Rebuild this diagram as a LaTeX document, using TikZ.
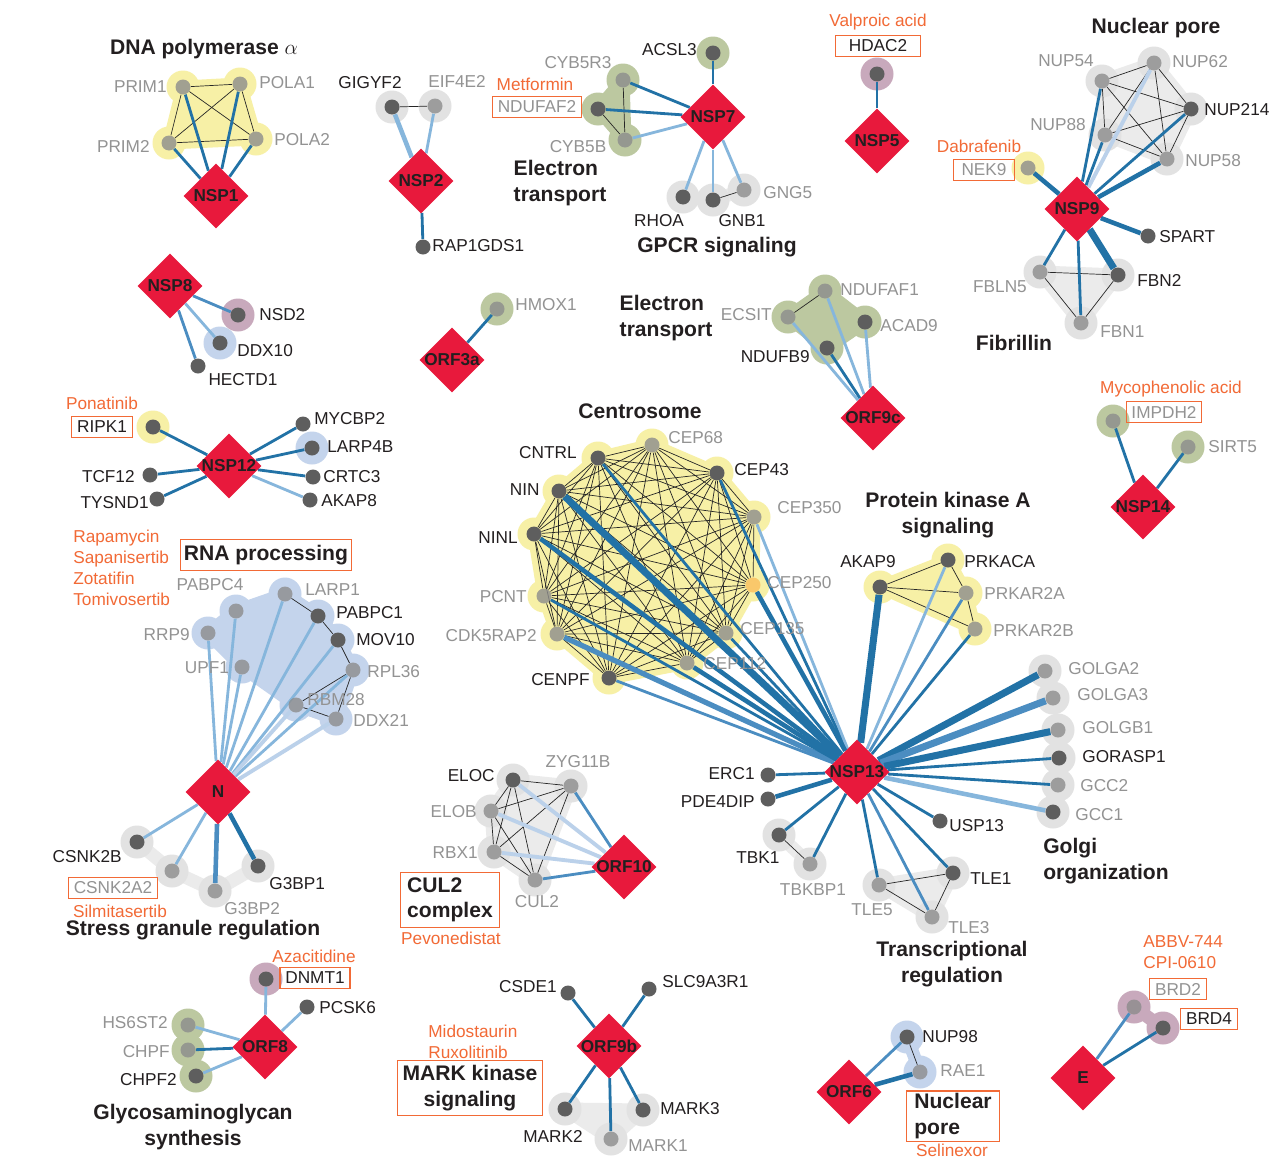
\documentclass[tikz,border=0pt]{standalone}
\usepackage{fontspec}
\setmainfont{Liberation Sans}
\usepackage{tikz}
\usetikzlibrary{shapes.geometric}
\newcommand{\dotsize}{3mm}
\newcommand{\halorad}{3.3mm}
\newcommand{\labfont}{\fontsize{9.8}{11.9}\selectfont}
\newcommand{\titfont}{\fontsize{12}{14.4}\selectfont\bfseries}
\newcommand{\baitlab}[1]{\makebox[0pt]{#1}}
\definecolor{vred}{HTML}{E8193C}
\definecolor{dkdot}{HTML}{5E5E5E}
\definecolor{ltdot}{HTML}{8C8C8C}
\definecolor{ordot}{HTML}{F9C86B}
\definecolor{yhalo}{HTML}{F7F0A6}
\definecolor{ghalo}{HTML}{BCC8A0}
\definecolor{phalo}{HTML}{C8A9BC}
\definecolor{bhalo}{HTML}{C4D4EC}
\definecolor{khalo}{HTML}{E2E2E2}
\definecolor{khull}{HTML}{EBEBEB}
\definecolor{txtblack}{HTML}{231F20}
\definecolor{txtgray}{HTML}{939393}
\definecolor{dorange}{HTML}{F26A36}
\definecolor{edark}{HTML}{2272A6}
\definecolor{emid}{HTML}{4B8DC1}
\definecolor{elite}{HTML}{86B6DC}
\definecolor{epale}{HTML}{BBD1EA}
\pgfdeclarelayer{bg}
\pgfdeclarelayer{hulls}
\pgfdeclarelayer{edges}
\pgfsetlayers{bg,hulls,edges,main}

\begin{document}
\begin{tikzpicture}[x=0.2mm,y=-0.2mm,
  bait/.style={diamond,fill=vred,minimum width=13mm,minimum height=13mm,inner sep=0pt,font=\labfont\bfseries,text=txtblack},
  pd/.style={circle,fill=dkdot,minimum size=\dotsize,inner sep=0pt},
  pl/.style={pd,fill=ltdot,fill opacity=0.8},
  po/.style={pd,fill=ordot},
  lab/.style={font=\labfont,text=txtblack,inner sep=0pt},
  labg/.style={lab,text=txtgray},
  drug/.style={lab,text=dorange},
  dbox/.style={draw=dorange,line width=0.7pt,inner xsep=3pt,inner ysep=2.7pt},
  title/.style={font=\titfont,text=txtblack,inner sep=0pt},
  ed/.style={draw=edark,line width=1.6pt},
  edw/.style={draw=edark,line width=2.6pt},
  edx/.style={draw=edark,line width=4pt},
  em/.style={draw=emid,line width=1.6pt},
  emw/.style={draw=emid,line width=3pt},
  el/.style={draw=elite,line width=1.6pt},
  elw/.style={draw=elite,line width=2.6pt},
  ep/.style={draw=epale,line width=2.2pt},
  intra/.style={draw=black!85,line width=0.4pt},
  hull/.style={line width=2.6mm,line join=round,line cap=round},
  hullY/.style={hull,fill=yhalo,draw=yhalo},
  hullG/.style={hull,fill=ghalo,draw=ghalo},
  hullB/.style={hull,fill=bhalo,draw=bhalo},
  hullK/.style={hull,fill=khull,draw=khull},
  chainK/.style={hull,draw=khull},
  chainB/.style={hull,draw=bhalo},
  chainP/.style={hull,draw=phalo}]
\useasboundingbox (0,0) rectangle (1272,1159);

% DNA polymerase alpha
\node[title] (tPola) at (204,49) {DNA polymerase $\alpha$};
\node[bait] (NSP1) at (216,196) {\baitlab{NSP1}};
\node[pl] (PRIM1) at (183,87) {};
\node[pl] (POLA1) at (240,84) {};
\node[pl] (PRIM2) at (169,143) {};
\node[pl] (POLA2) at (256,139) {};
\node[labg,anchor=east] (lPRIM1) at (167,87) {PRIM1};
\node[labg,anchor=west] (lPOLA1) at (259,83) {POLA1};
\node[labg,anchor=east] (lPRIM2) at (150,146) {PRIM2};
\node[labg,anchor=west] (lPOLA2) at (274,140) {POLA2};

% NSP2
\node[bait] (NSP2) at (421,181) {\baitlab{NSP2}};
\node[pd] (GIGYF2) at (392,107) {};
\node[pl] (EIF4E2) at (435,106) {};
\node[pd] (RAP1GDS1) at (423,247) {};
\node[lab] (lGIGYF2) at (370,83) {GIGYF2};
\node[labg] (lEIF4E2) at (457,81) {EIF4E2};
\node[lab,anchor=west] (lRAP1GDS1) at (432,246) {RAP1GDS1};

% NSP7
\node[bait] (NSP7) at (713,117) {\baitlab{NSP7}};
\node[pd] (ACSL3) at (713,53) {};
\node[pl] (CYB5R3) at (623,80) {};
\node[pd] (NDUFAF2) at (598,109) {};
\node[pl] (CYB5B) at (625,140) {};
\node[pd] (RHOA) at (683,197) {};
\node[pd] (GNB1) at (713,200) {};
\node[pl] (GNG5) at (744,190) {};
\node[lab,anchor=east] (lACSL3) at (697,50) {ACSL3};
\node[labg] (lCYB5R3) at (578,63) {CYB5R3};
\node[drug] (dMetformin) at (535,84) {Metformin};
\node[labg,dbox] (lNDUFAF2) at (537,107) {NDUFAF2};
\node[labg] (lCYB5B) at (578,147) {CYB5B};
\node[title,align=left] (tElec) at (560,183) {Electron\\transport};
\node[lab] (lRHOA) at (659,221) {RHOA};
\node[lab] (lGNB1) at (742,221) {GNB1};
\node[labg,anchor=west] (lGNG5) at (763,193) {GNG5};
\node[title] (tGPCR) at (717,247) {GPCR signaling};

% NSP5
\node[bait] (NSP5) at (877,141) {\baitlab{NSP5}};
\node[pd] (HDAC2) at (877,74) {};
\node[drug] (dValproic) at (878,22) {Valproic acid};
\node[lab,dbox,inner xsep=7.5pt] (lHDAC2) at (878,46) {HDAC2};

% NSP9
\node[title] (tNucPore) at (1156,28) {Nuclear pore};
\node[bait] (NSP9) at (1077,209) {\baitlab{NSP9}};
\node[pl] (NUP54) at (1102,81) {};
\node[pl] (NUP62) at (1154,63) {};
\node[pd] (NUP214) at (1191,109) {};
\node[pl] (NUP88) at (1105,135) {};
\node[pl] (NUP58) at (1167,159) {};
\node[pl] (NEK9) at (1028,168) {};
\node[pd] (SPART) at (1148,236) {};
\node[pl] (FBLN5) at (1040,272) {};
\node[pd] (FBN2) at (1118,275) {};
\node[pl] (FBN1) at (1081,323) {};
\node[labg] (lNUP54) at (1066,61) {NUP54};
\node[labg,anchor=west] (lNUP62) at (1172,62) {NUP62};
\node[lab,anchor=west] (lNUP214) at (1204,110) {NUP214};
\node[labg] (lNUP88) at (1058,125) {NUP88};
\node[labg,anchor=west] (lNUP58) at (1185,161) {NUP58};
\node[drug] (dDabrafenib) at (979,146) {Dabrafenib};
\node[labg,dbox,inner xsep=4.5pt] (lNEK9) at (984,170) {NEK9};
\node[lab,anchor=west] (lSPART) at (1159,237) {SPART};
\node[labg] (lFBLN5) at (1000,287) {FBLN5};
\node[lab,anchor=west] (lFBN2) at (1137,280) {FBN2};
\node[labg,anchor=west] (lFBN1) at (1100,332) {FBN1};
\node[title] (tFib) at (1014,343) {Fibrillin};

% NSP8
\node[bait] (NSP8) at (170,286) {\baitlab{NSP8}};
\node[pd] (NSD2) at (238,315) {};
\node[pd] (DDX10) at (220,343) {};
\node[pd] (HECTD1) at (198,366) {};
\node[lab,anchor=west] (lNSD2) at (259,315) {NSD2};
\node[lab,anchor=west] (lDDX10) at (237,351) {DDX10};
\node[lab] (lHECTD1) at (243,380) {HECTD1};

% NSP12
\node[bait] (NSP12) at (229,466) {\baitlab{NSP12}};
\node[pd] (RIPK1) at (153,427) {};
\node[pd] (MYCBP2) at (303,424) {};
\node[pd] (LARP4B) at (312,448) {};
\node[pd] (CRTC3) at (313,477) {};
\node[pd] (AKAP8) at (310,500) {};
\node[pd] (TCF12) at (150,475) {};
\node[pd] (TYSND1) at (157,499) {};
\node[drug] (dPonatinib) at (102,403) {Ponatinib};
\node[lab,dbox] (lRIPK1) at (102,427) {RIPK1};
\node[lab,anchor=west] (lMYCBP2) at (314,419) {MYCBP2};
\node[lab,anchor=west] (lLARP4B) at (327,447) {LARP4B};
\node[lab,anchor=west] (lCRTC3) at (323,477) {CRTC3};
\node[lab,anchor=west] (lAKAP8) at (321,501) {AKAP8};
\node[lab,anchor=east] (lTCF12) at (135,477) {TCF12};
\node[lab,anchor=east] (lTYSND1) at (149,503) {TYSND1};

% ORF3a
\node[bait] (ORF3a) at (452,360) {\baitlab{ORF3a}};
\node[pl] (HMOX1) at (497,309) {};
\node[labg,anchor=west] (lHMOX1) at (515,305) {HMOX1};

% ORF9c
\node[title,align=left] (tElecB) at (666,318) {Electron\\transport};
\node[bait] (ORF9c) at (873,418) {\baitlab{ORF9c}};
\node[pl] (ECSIT) at (788,317) {};
\node[pl] (NDUFAF1) at (825,291) {};
\node[pd] (ACAD9) at (865,322) {};
\node[pd] (NDUFB9) at (827,348) {};
\node[labg,anchor=east] (lECSIT) at (772,315) {ECSIT};
\node[labg,anchor=west] (lNDUFAF1) at (840,290) {NDUFAF1};
\node[labg,anchor=west] (lACAD9) at (880,326) {ACAD9};
\node[lab,anchor=east] (lNDUFB9) at (810,357) {NDUFB9};

% NSP14
\node[bait] (NSP14) at (1143,507) {\baitlab{NSP14}};
\node[pl] (IMPDH2) at (1113,421) {};
\node[pl] (SIRT5) at (1188,447) {};
\node[drug] (dMyco) at (1171,389) {Mycophenolic acid};
\node[labg,dbox] (lIMPDH2) at (1164,412) {IMPDH2};
\node[labg,anchor=west] (lSIRT5) at (1208,447) {SIRT5};

% Centrosome
\node[title] (tCentro) at (640,411) {Centrosome};
\node[pd] (CNTRL) at (598,458) {};
\node[pl] (CEP68) at (652,445) {};
\node[pd] (CEP43) at (717,473) {};
\node[pl] (CEP350) at (754,517) {};
\node[pd] (NIN) at (559,491) {};
\node[pd] (NINL) at (534,534) {};
\node[po] (CEP250) at (753,585) {};
\node[pl] (PCNT) at (544,596) {};
\node[pl] (CDK5RAP2) at (557,634) {};
\node[pl] (CEP135) at (726,633) {};
\node[pl] (CEP112) at (687,663) {};
\node[pd] (CENPF) at (609,678) {};
\node[lab,anchor=east] (lCNTRL) at (577,453) {CNTRL};
\node[labg,anchor=west] (lCEP68) at (668,438) {CEP68};
\node[lab,anchor=west] (lCEP43) at (734,470) {CEP43};
\node[labg,anchor=west] (lCEP350) at (777,508) {CEP350};
\node[lab,anchor=east] (lNIN) at (540,490) {NIN};
\node[lab,anchor=east] (lNINL) at (518,538) {NINL};
\node[labg,anchor=west] (lCEP250) at (767,583) {CEP250};
\node[labg,anchor=east] (lPCNT) at (527,597) {PCNT};
\node[labg,anchor=east] (lCDK5RAP2) at (537,636) {CDK5RAP2};
\node[labg,anchor=west] (lCEP135) at (740,629) {CEP135};
\node[labg,anchor=west] (lCEP112) at (703,664) {CEP112};
\node[lab,anchor=east] (lCENPF) at (590,680) {CENPF};

% NSP13
\node[bait] (NSP13) at (857,772) {\baitlab{NSP13}};
\node[title,align=center] (tPKA) at (948,515) {Protein kinase A\\signaling};
\node[pd] (AKAP9) at (880,587) {};
\node[pd] (PRKACA) at (948,560) {};
\node[pl] (PRKAR2A) at (966,593) {};
\node[pl] (PRKAR2B) at (975,629) {};
\node[lab] (lAKAP9) at (868,562) {AKAP9};
\node[lab,anchor=west] (lPRKACA) at (964,562) {PRKACA};
\node[labg,anchor=west] (lPRKAR2A) at (984,593) {PRKAR2A};
\node[labg,anchor=west] (lPRKAR2B) at (993,630) {PRKAR2B};
\node[pl] (GOLGA2) at (1045,671) {};
\node[pl] (GOLGA3) at (1053,698) {};
\node[pl] (GOLGB1) at (1058,730) {};
\node[pd] (GORASP1) at (1059,758) {};
\node[pl] (GCC2) at (1058,785) {};
\node[pd] (GCC1) at (1053,812) {};
\node[labg,anchor=west] (lGOLGA2) at (1068,669) {GOLGA2};
\node[labg,anchor=west] (lGOLGA3) at (1077,695) {GOLGA3};
\node[labg,anchor=west] (lGOLGB1) at (1082,728) {GOLGB1};
\node[lab,anchor=west] (lGORASP1) at (1082,757) {GORASP1};
\node[labg,anchor=west] (lGCC2) at (1080,786) {GCC2};
\node[labg,anchor=west] (lGCC1) at (1075,815) {GCC1};
\node[title,align=left] (tGolgi) at (1106,861) {Golgi\\organization};
\node[pd] (USP13) at (940,821) {};
\node[pd] (TLE1) at (953,873) {};
\node[pl] (TLE5) at (879,885) {};
\node[pl] (TLE3) at (932,917) {};
\node[lab,anchor=west] (lUSP13) at (949,826) {USP13};
\node[lab,anchor=west] (lTLE1) at (970,879) {TLE1};
\node[labg] (lTLE5) at (872,910) {TLE5};
\node[labg,anchor=west] (lTLE3) at (948,928) {TLE3};
\node[title,align=center] (tTrans) at (952,964) {Transcriptional\\regulation};
\node[pd] (ERC1) at (768,775) {};
\node[pd] (PDE4DIP) at (768,799) {};
\node[pd] (TBK1) at (779,835) {};
\node[pl] (TBKBP1) at (810,864) {};
\node[lab,anchor=east] (lERC1) at (755,774) {ERC1};
\node[lab,anchor=east] (lPDE4DIP) at (755,802) {PDE4DIP};
\node[lab] (lTBK1) at (758,858) {TBK1};
\node[labg] (lTBKBP1) at (813,890) {TBKBP1};

% N
\node[drug,align=left,anchor=west] (dRNA) at (73,568) {Rapamycin\\Sapanisertib\\Zotatifin\\Tomivosertib};
\node[title,dbox,inner xsep=2pt,inner ysep=3pt] (tRNA) at (266,555) {RNA processing};
\node[bait] (N) at (218,792) {\baitlab{N}};
\node[pl] (PABPC4) at (236,611) {};
\node[pl] (LARP1) at (285,594) {};
\node[pd] (PABPC1) at (318,616) {};
\node[pd] (MOV10) at (338,640) {};
\node[pl] (RPL36) at (353,670) {};
\node[pl] (RRP9) at (208,633) {};
\node[pl] (UPF1) at (242,667) {};
\node[pl] (RBM28) at (296,705) {};
\node[pl] (DDX21) at (336,719) {};
\node[labg] (lPABPC4) at (210,585) {PABPC4};
\node[labg,anchor=west] (lLARP1) at (305,590) {LARP1};
\node[lab,anchor=west] (lPABPC1) at (336,613) {PABPC1};
\node[lab,anchor=west] (lMOV10) at (356,640) {MOV10};
\node[labg,anchor=west] (lRPL36) at (367,672) {RPL36};
\node[labg,anchor=east] (lRRP9) at (190,635) {RRP9};
\node[labg] (lUPF1) at (207,668) {UPF1};
\node[labg,anchor=west] (lRBM28) at (307,700) {RBM28};
\node[labg,anchor=west] (lDDX21) at (353,720) {DDX21};
\node[pd] (CSNK2B) at (137,842) {};
\node[pl] (CSNK2A2) at (172,871) {};
\node[pl] (G3BP2) at (215,891) {};
\node[pd] (G3BP1) at (258,866) {};
\node[lab,anchor=east] (lCSNK2B) at (122,857) {CSNK2B};
\node[labg,dbox] (lCSNK2A2) at (113,888) {CSNK2A2};
\node[drug] (dSilmi) at (120,911) {Silmitasertib};
\node[labg,anchor=west] (lG3BP2) at (224,909) {G3BP2};
\node[lab,anchor=west] (lG3BP1) at (269,884) {G3BP1};
\node[title] (tStress) at (193,930) {Stress granule regulation};

% ORF10
\node[bait] (ORF10) at (624,867) {\baitlab{ORF10}};
\node[pd] (ELOC) at (513,780) {};
\node[pl] (ZYG11B) at (571,786) {};
\node[pl] (ELOB) at (491,811) {};
\node[pl] (RBX1) at (494,852) {};
\node[pl] (CUL2) at (535,880) {};
\node[lab,anchor=east] (lELOC) at (495,776) {ELOC};
\node[labg] (lZYG11B) at (578,762) {ZYG11B};
\node[labg,anchor=east] (lELOB) at (477,812) {ELOB};
\node[labg,anchor=east] (lRBX1) at (478,853) {RBX1};
\node[labg] (lCUL2) at (537,902) {CUL2};
\node[title,dbox,align=left,inner xsep=4pt,inner ysep=3pt] (tCUL2) at (450,900) {CUL2\\complex};
\node[drug] (dPevo) at (451,938) {Pevonedistat};

% ORF8
\node[bait] (ORF8) at (265,1047) {\baitlab{ORF8}};
\node[pd] (DNMT1) at (266,979) {};
\node[pd] (PCSK6) at (307,1007) {};
\node[pl] (HS6ST2) at (188,1025) {};
\node[pl] (CHPF) at (188,1050) {};
\node[pd] (CHPF2) at (196,1076) {};
\node[drug] (dAza) at (314,956) {Azacitidine};
\node[lab,dbox] (lDNMT1) at (315,978) {DNMT1};
\node[lab,anchor=west] (lPCSK6) at (319,1008) {PCSK6};
\node[labg,anchor=east] (lHS6ST2) at (168,1023) {HS6ST2};
\node[labg,anchor=east] (lCHPF) at (170,1052) {CHPF};
\node[lab,anchor=east] (lCHPF2) at (177,1080) {CHPF2};
\node[title,align=center] (tGlyco) at (193,1127) {Glycosaminoglycan\\synthesis};

% ORF9b
\node[bait] (ORF9b) at (609,1046) {\baitlab{ORF9b}};
\node[pd] (CSDE1) at (568,993) {};
\node[pd] (SLC9A3R1) at (649,989) {};
\node[pd] (MARK2) at (565,1109) {};
\node[pd] (MARK3) at (643,1110) {};
\node[pl] (MARK1) at (611,1139) {};
\node[lab,anchor=east] (lCSDE1) at (557,987) {CSDE1};
\node[lab,anchor=west] (lSLC9A3R1) at (662,982) {SLC9A3R1};
\node[lab] (lMARK2) at (553,1136) {MARK2};
\node[lab,anchor=west] (lMARK3) at (660,1109) {MARK3};
\node[labg,anchor=west] (lMARK1) at (628,1146) {MARK1};
\node[drug,align=left,anchor=west] (dMARK) at (428,1042) {Midostaurin\\Ruxolitinib};
\node[title,dbox,align=center,inner xsep=3pt,inner ysep=3pt] (tMARK) at (470,1088) {MARK kinase\\signaling};

% ORF6
\node[bait] (ORF6) at (849,1092) {\baitlab{ORF6}};
\node[pd] (NUP98) at (907,1037) {};
\node[pl] (RAE1) at (920,1072) {};
\node[lab,anchor=west] (lNUP98) at (922,1037) {NUP98};
\node[labg,anchor=west] (lRAE1) at (940,1071) {RAE1};
\node[title,dbox,align=left,inner xsep=4.5pt,inner ysep=1.5pt] (tNucPoreB) at (953,1116) {Nuclear\\pore};
\node[drug] (dSeli) at (952,1150) {Selinexor};

% E
\node[bait] (E) at (1083,1078) {\baitlab{E}};
\node[pl] (BRD2) at (1134,1007) {};
\node[pd] (BRD4) at (1163,1028) {};
\node[drug,align=left,anchor=west] (dBRD) at (1143,952) {ABBV-744\\CPI-0610};
\node[labg,dbox] (lBRD2) at (1178,989) {BRD2};
\node[lab,dbox] (lBRD4) at (1209,1019) {BRD4};

\begin{pgfonlayer}{bg}
\fill[white] (0,0) rectangle (1272,1159);
\end{pgfonlayer}

\begin{pgfonlayer}{hulls}
% complex backgrounds
\filldraw[hullY] (PRIM1.center) -- (POLA1.center) -- (POLA2.center) -- (PRIM2.center) -- cycle;
\filldraw[hullG] (CYB5R3.center) -- (CYB5B.center) -- (NDUFAF2.center) -- cycle;
\draw[chainK] (RHOA.center) -- (GNB1.center) -- (GNG5.center);
\filldraw[hullK] (NUP54.center) -- (NUP62.center) -- (NUP214.center) -- (NUP58.center) -- (NUP88.center) -- cycle;
\filldraw[hullK] (FBLN5.center) -- (FBN2.center) -- (FBN1.center) -- cycle;
\filldraw[hullG] (ECSIT.center) -- (NDUFAF1.center) -- (ACAD9.center) -- (NDUFB9.center) -- cycle;
\filldraw[hullY] (CEP68.center) -- (CEP43.center) -- (CEP350.center) -- (CEP250.center) -- (CEP135.center) -- (CEP112.center) -- (CENPF.center) -- (CDK5RAP2.center) -- (PCNT.center) -- (NINL.center) -- (NIN.center) -- (CNTRL.center) -- cycle;
\filldraw[hullY] (AKAP9.center) -- (PRKACA.center) -- (PRKAR2A.center) -- (PRKAR2B.center) -- cycle;
\filldraw[hullK] (TLE5.center) -- (TLE1.center) -- (TLE3.center) -- cycle;
\draw[chainK] (TBK1.center) -- (TBKBP1.center);
\filldraw[hullB] (RRP9.center) -- (PABPC4.center) -- (LARP1.center) -- (PABPC1.center) -- (MOV10.center) -- (RPL36.center) -- (DDX21.center) -- (RBM28.center) -- (UPF1.center) -- cycle;
\draw[chainK] (CSNK2B.center) -- (CSNK2A2.center) -- (G3BP2.center) -- (G3BP1.center);
\filldraw[hullK] (ELOC.center) -- (ZYG11B.center) -- (CUL2.center) -- (RBX1.center) -- (ELOB.center) -- cycle;
\filldraw[hullK] (MARK2.center) -- (MARK3.center) -- (MARK1.center) -- cycle;
\draw[chainB] (NUP98.center) -- (RAE1.center);
\draw[chainP] (BRD2.center) -- (BRD4.center);
% halos
\foreach \n in {PRIM1,POLA1,PRIM2,POLA2,NEK9,RIPK1,CNTRL,CEP68,CEP43,CEP350,NIN,NINL,CEP250,PCNT,CDK5RAP2,CEP135,CEP112,CENPF,AKAP9,PRKACA,PRKAR2A,PRKAR2B}
  \fill[yhalo] (\n) circle[radius=\halorad];
\foreach \n in {ACSL3,CYB5R3,NDUFAF2,CYB5B,HMOX1,ECSIT,NDUFAF1,ACAD9,NDUFB9,IMPDH2,SIRT5,HS6ST2,CHPF,CHPF2}
  \fill[ghalo] (\n) circle[radius=\halorad];
\foreach \n in {HDAC2,NSD2,DNMT1,BRD2,BRD4}
  \fill[phalo] (\n) circle[radius=\halorad];
\foreach \n in {DDX10,LARP4B,PABPC4,LARP1,PABPC1,MOV10,RPL36,RRP9,UPF1,RBM28,DDX21,NUP98,RAE1}
  \fill[bhalo] (\n) circle[radius=\halorad];
\foreach \n in {GIGYF2,EIF4E2,RHOA,GNB1,GNG5,NUP54,NUP62,NUP214,NUP88,NUP58,FBLN5,FBN2,FBN1,GOLGA2,GOLGA3,GOLGB1,GORASP1,GCC2,GCC1,TBK1,TBKBP1,TLE1,TLE5,TLE3,CSNK2B,CSNK2A2,G3BP2,G3BP1,ELOC,ZYG11B,ELOB,RBX1,CUL2,MARK2,MARK3,MARK1}
  \fill[khalo] (\n) circle[radius=\halorad];
\end{pgfonlayer}

\begin{pgfonlayer}{edges}
% complex edges
\draw[intra] (PRIM1) -- (POLA1);
\draw[intra] (PRIM1) -- (PRIM2);
\draw[intra] (PRIM1) -- (POLA2);
\draw[intra] (POLA1) -- (PRIM2);
\draw[intra] (POLA1) -- (POLA2);
\draw[intra] (PRIM2) -- (POLA2);
\draw[intra] (GIGYF2) -- (EIF4E2);
\draw[intra] (CYB5R3) -- (CYB5B);
\draw[intra] (NDUFAF2) -- (CYB5B);
\draw[intra] (GNB1) -- (GNG5);
\draw[intra] (NUP54) -- (NUP62);
\draw[intra] (NUP54) -- (NUP214);
\draw[intra] (NUP54) -- (NUP88);
\draw[intra] (NUP54) -- (NUP58);
\draw[intra] (NUP62) -- (NUP214);
\draw[intra] (NUP62) -- (NUP88);
\draw[intra] (NUP62) -- (NUP58);
\draw[intra] (NUP88) -- (NUP214);
\draw[intra] (NUP88) -- (NUP58);
\draw[intra] (NUP214) -- (NUP58);
\draw[intra] (FBLN5) -- (FBN2);
\draw[intra] (FBLN5) -- (FBN1);
\draw[intra] (FBN2) -- (FBN1);
\draw[intra] (ECSIT) -- (NDUFAF1);
\def\centlist{CNTRL,CEP68,CEP43,CEP350,CEP250,CEP135,CEP112,CENPF,CDK5RAP2,PCNT,NINL,NIN}
\foreach \a [count=\i] in \centlist
  \foreach \b [count=\j] in \centlist
    {\ifnum\i<\j \draw[intra] (\a) -- (\b); \fi}
\draw[intra] (AKAP9) -- (PRKACA);
\draw[intra] (AKAP9) -- (PRKAR2A);
\draw[intra] (AKAP9) -- (PRKAR2B);
\draw[intra] (PRKACA) -- (PRKAR2A);
\draw[intra] (PRKAR2A) -- (PRKAR2B);
\draw[intra] (TLE5) -- (TLE1);
\draw[intra] (TLE5) -- (TLE3);
\draw[intra] (TLE1) -- (TLE3);
\draw[intra] (TBK1) -- (TBKBP1);
\draw[intra] (LARP1) -- (PABPC1);
\draw[intra] (PABPC1) -- (MOV10);
\draw[intra] (MOV10) -- (RPL36);
\draw[intra] (RPL36) -- (RBM28);
\draw[intra] (RPL36) -- (DDX21);
\draw[intra] (RBM28) -- (DDX21);
\draw[intra] (ELOC) -- (ZYG11B);
\draw[intra] (ELOC) -- (ELOB);
\draw[intra] (ELOC) -- (RBX1);
\draw[intra] (ELOC) -- (CUL2);
\draw[intra] (ELOB) -- (ZYG11B);
\draw[intra] (ELOB) -- (RBX1);
\draw[intra] (ELOB) -- (CUL2);
\draw[intra] (RBX1) -- (ZYG11B);
\draw[intra] (RBX1) -- (CUL2);
\draw[intra] (ZYG11B) -- (CUL2);
\draw[intra] (NUP98) -- (RAE1);
% virus-host edges
\draw[ed] (NSP1) -- (PRIM1);
\draw[ed] (NSP1) -- (POLA1);
\draw[ed] (NSP1) -- (PRIM2);
\draw[ed] (NSP1) -- (POLA2);
\draw[elw] (NSP2) -- (GIGYF2);
\draw[el] (NSP2) -- (EIF4E2);
\draw[ed] (NSP2) -- (RAP1GDS1);
\draw[ed] (NSP7) -- (ACSL3);
\draw[ed] (NSP7) -- (CYB5R3);
\draw[ed] (NSP7) -- (NDUFAF2);
\draw[el] (NSP7) -- (CYB5B);
\draw[el] (NSP7) -- (RHOA);
\draw[el] (NSP7) -- (GNB1);
\draw[el] (NSP7) -- (GNG5);
\draw[ed] (NSP5) -- (HDAC2);
\draw[edw] (NSP9) -- (NEK9);
\draw[ed] (NSP9) -- (NUP54);
\draw[ep] (NSP9) -- (NUP62);
\draw[ed] (NSP9) -- (NUP88);
\draw[ed] (NSP9) -- (NUP214);
\draw[edw] (NSP9) -- (NUP58);
\draw[edw] (NSP9) -- (SPART);
\draw[ed] (NSP9) -- (FBLN5);
\draw[ed] (NSP9) -- (FBN1);
\draw[edx] (NSP9) -- (FBN2);
\draw[em] (NSP8) -- (NSD2);
\draw[el] (NSP8) -- (DDX10);
\draw[em] (NSP8) -- (HECTD1);
\draw[ed] (NSP12) -- (RIPK1);
\draw[ed] (NSP12) -- (MYCBP2);
\draw[ed] (NSP12) -- (LARP4B);
\draw[ed] (NSP12) -- (CRTC3);
\draw[el] (NSP12) -- (AKAP8);
\draw[ed] (NSP12) -- (TCF12);
\draw[ed] (NSP12) -- (TYSND1);
\draw[ed] (ORF3a) -- (HMOX1);
\draw[el] (ORF9c) -- (ECSIT);
\draw[el] (ORF9c) -- (NDUFAF1);
\draw[el] (ORF9c) -- (ACAD9);
\draw[ed] (ORF9c) -- (NDUFB9);
\draw[ed] (NSP14) -- (IMPDH2);
\draw[ed] (NSP14) -- (SIRT5);
\draw[ed] (NSP13) -- (CNTRL);
\draw[edx] (NSP13) -- (NIN);
\draw[edw] (NSP13) -- (NINL);
\draw[ed] (NSP13) -- (CEP43);
\draw[el] (NSP13) -- (CEP350);
\draw[edw] (NSP13) -- (CEP250);
\draw[ed] (NSP13) -- (CEP135);
\draw[edw] (NSP13) -- (CEP112);
\draw[emw] (NSP13) -- (CDK5RAP2);
\draw[ed] (NSP13) -- (PCNT);
\draw[em] (NSP13) -- (CENPF);
\draw[edx] (NSP13) -- (AKAP9);
\draw[el] (NSP13) -- (PRKACA);
\draw[em] (NSP13) -- (PRKAR2A);
\draw[ed] (NSP13) -- (PRKAR2B);
\draw[edx] (NSP13) -- (GOLGA2);
\draw[draw=emid,line width=4pt] (NSP13) -- (GOLGA3);
\draw[edx] (NSP13) -- (GOLGB1);
\draw[ed] (NSP13) -- (GORASP1);
\draw[ed] (NSP13) -- (GCC2);
\draw[elw] (NSP13) -- (GCC1);
\draw[ed] (NSP13) -- (USP13);
\draw[ed] (NSP13) -- (TLE1);
\draw[ed] (NSP13) -- (TLE5);
\draw[em] (NSP13) -- (TLE3);
\draw[ed] (NSP13) -- (ERC1);
\draw[edw] (NSP13) -- (PDE4DIP);
\draw[ed] (NSP13) -- (TBK1);
\draw[ed] (NSP13) -- (TBKBP1);
\draw[el] (N) -- (RRP9);
\draw[el] (N) -- (UPF1);
\draw[el] (N) -- (PABPC4);
\draw[el] (N) -- (LARP1);
\draw[el] (N) -- (PABPC1);
\draw[el] (N) -- (MOV10);
\draw[el] (N) -- (RPL36);
\draw[ep] (N) -- (RBM28);
\draw[ep] (N) -- (DDX21);
\draw[el] (N) -- (CSNK2B);
\draw[el] (N) -- (CSNK2A2);
\draw[draw=emid,line width=2.6pt] (N) -- (G3BP2);
\draw[edw] (N) -- (G3BP1);
\draw[em] (ORF10) -- (ZYG11B);
\draw[ep] (ORF10) -- (ELOC);
\draw[ep] (ORF10) -- (ELOB);
\draw[ep] (ORF10) -- (RBX1);
\draw[em] (ORF10) -- (CUL2);
\draw[el] (ORF8) -- (DNMT1);
\draw[el] (ORF8) -- (PCSK6);
\draw[el] (ORF8) -- (HS6ST2);
\draw[ed] (ORF8) -- (CHPF);
\draw[el] (ORF8) -- (CHPF2);
\draw[ed] (ORF9b) -- (CSDE1);
\draw[ed] (ORF9b) -- (SLC9A3R1);
\draw[ed] (ORF9b) -- (MARK2);
\draw[ed] (ORF9b) -- (MARK3);
\draw[ed] (ORF9b) -- (MARK1);
\draw[em] (ORF6) -- (NUP98);
\draw[edw] (ORF6) -- (RAE1);
\draw[em] (E) -- (BRD2);
\draw[ed] (E) -- (BRD4);
\end{pgfonlayer}
\end{tikzpicture}
\end{document}
